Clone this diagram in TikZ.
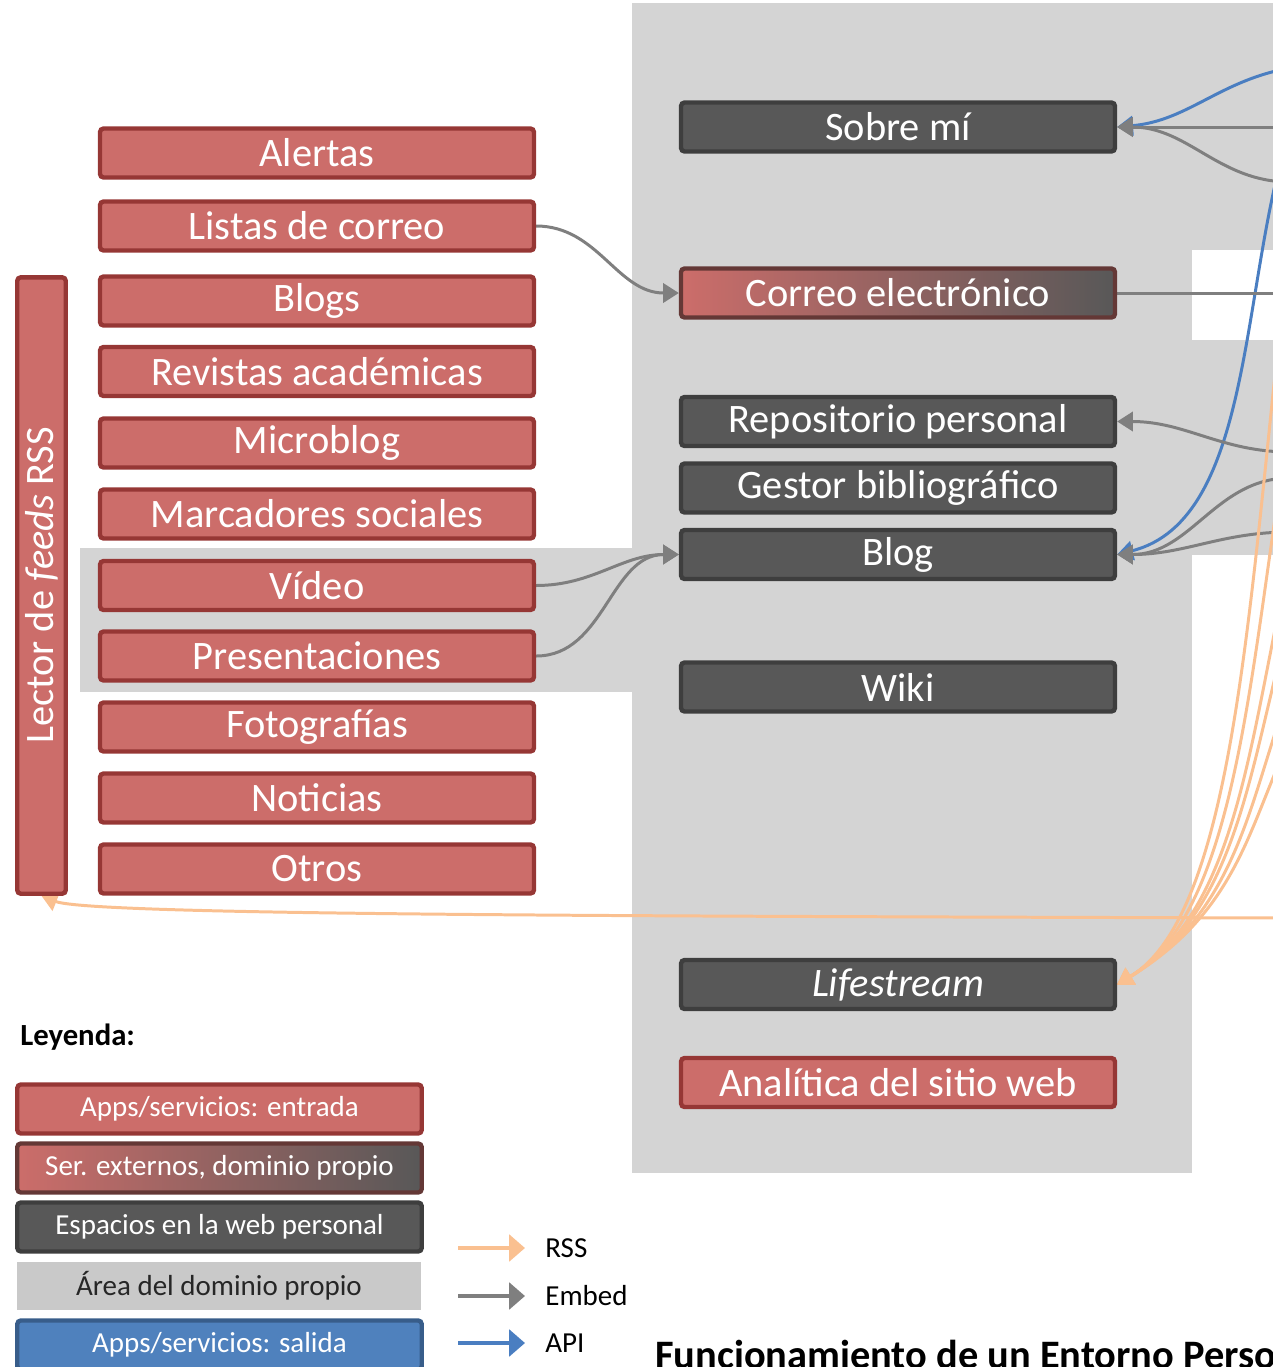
\documentclass[tikz,border=0pt]{standalone}
\usepackage{fontspec}
\setmainfont{Carlito}
\usetikzlibrary{arrows.meta}
\definecolor{rojo}{RGB}{204,109,106}
\definecolor{rojoBorde}{RGB}{150,55,53}
\definecolor{oscuro}{RGB}{88,88,88}
\definecolor{oscuroBorde}{RGB}{62,62,62}
\definecolor{mixtoBorde}{RGB}{100,56,54}
\definecolor{area}{RGB}{212,212,212}
\definecolor{azul}{RGB}{79,129,189}
\definecolor{azulBorde}{RGB}{56,93,138}
\definecolor{lineaAzul}{RGB}{74,126,193}
\definecolor{naranja}{RGB}{250,192,144}
\definecolor{lineaGris}{RGB}{127,127,127}
\pgfdeclarelayer{fondo}
\pgfdeclarelayer{lineas}
\pgfsetlayers{fondo,lineas,main}
\tikzset{
  caja/.style={draw=rojoBorde, fill=rojo, line width=2.5pt, rounded corners=2pt,
    minimum width=8.68cm, minimum height=0.98cm, inner sep=0pt, text=white,
    font=\fontsize{23}{27}\selectfont},
  entrada/.style={caja},
  espacio/.style={caja, draw=oscuroBorde, fill=oscuro},
  externo/.style={caja, draw=mixtoBorde, left color=rojo, right color=oscuro},
  leyendacaja/.style={minimum width=8.09cm, font=\fontsize{16.5}{19}\selectfont},
  embed/.style={draw=lineaGris, line width=1.7pt, -{Triangle[length=9pt,width=11pt]}},
  rss/.style={embed, draw=naranja},
  api/.style={embed, draw=lineaAzul},
}
\begin{document}
\begin{tikzpicture}[x=0.02cm, y=-0.02cm]
    \useasboundingbox (0,0) rectangle (1273,1367);
    \clip (0,0) rectangle (1273,1367);
    % 灰色区域
    \begin{pgfonlayer}{fondo}
        \fill[area] (632,3) rectangle (1192,1173);
        \fill[area] (1192,3) rectangle (1290,250);
        \fill[area] (1192,340) rectangle (1290,555);
        \fill[area] (80,548) rectangle (632,692);
    \end{pgfonlayer}
    % 左列
    \foreach \nombre/\texto/\y in {alertas/Alertas/153, listas/Listas de correo/226,
        blogs/Blogs/301, revistas/Revistas académicas/371.5, microblog/Microblog/443,
        marcadores/Marcadores sociales/514, video/Vídeo/585.5,
        presentaciones/Presentaciones/656, fotografias/Fotografías/727,
        noticias/Noticias/798, otros/Otros/869}
        \node[entrada] (\nombre) at (317,\y) {\texto};
    \node[entrada, rotate=90, minimum width=12.33cm, minimum height=0.97cm] (lector)
        at (41.5,585.5) {Lector de \textit{feeds} RSS};
    % 中列
    \node[espacio] (sobremi) at (898,127) {Sobre mí};
    \node[externo] (correo) at (898,293) {Correo electrónico};
    \node[espacio] (repositorio) at (898,421.5) {Repositorio personal};
    \node[espacio] (gestor) at (898,488) {Gestor bibliográfico};
    \node[espacio] (blog) at (898,554.5) {Blog};
    \node[espacio] (wiki) at (898,687) {Wiki};
    \node[espacio] (lifestream) at (898,984.5) {\textit{Lifestream}};
    \node[entrada] (analitica) at (898,1082.5) {Analítica del sitio web};
    % 图例
    \node[anchor=west, inner sep=0pt, font=\bfseries\fontsize{17.5}{21}\selectfont] (leyenda)
        at (20,1037) {Leyenda:};
    \node[entrada, leyendacaja] (leyentrada) at (219.5,1109) {Apps/servicios: entrada};
    \node[externo, leyendacaja] (leyexterno) at (219.5,1168) {Ser. externos, dominio propio};
    \node[espacio, leyendacaja] (leyespacio) at (219.5,1227) {Espacios en la web personal};
    \node[fill=area!95!black, minimum width=8.08cm, minimum height=0.96cm, inner sep=0pt,
        text=black!85, font=\fontsize{16.5}{19}\selectfont] (leyarea) at (219,1286) {Área del dominio propio};
    \node[caja, leyendacaja, draw=azulBorde, fill=azul] (leysalida) at (219.5,1345) {Apps/servicios: salida};
    \foreach \nombre/\col/\y/\texto in {rss/naranja/1248/RSS, emb/lineaGris/1296/Embed, api/lineaAzul/1343/API} {
        \coordinate (\nombre0) at (458,\y);
        \coordinate (\nombre1) at (525,\y);
        \draw[draw=\col, line width=2.8pt, -{Triangle[length=9pt,width=15pt]}] (\nombre0) -- (\nombre1);
        \node[anchor=west, inner sep=0pt, font=\fontsize{16.5}{19}\selectfont] (txt\nombre) at (545,\y) {\texto};
    }
    \node[anchor=base west, inner sep=0pt, font=\bfseries\fontsize{23}{27}\selectfont] (titulo)
        at (655,1368) {Funcionamiento de un Entorno Personal};
    % 连接线
    \coordinate (apiA) at (1290,68);
    \coordinate (apiB) at (1290,130);
    \coordinate (embA) at (1290,127);
    \coordinate (embB) at (1290,182);
    \coordinate (embC) at (1290,452);
    \coordinate (embD) at (1290,478);
    \coordinate (embE) at (1290,532);
    \coordinate (correoSal) at (1290,293);
    \coordinate (rssLector) at (1290,918);
    \begin{pgfonlayer}{lineas}
        \draw[embed] (listas.east) to[out=0,in=180] (correo.west);
        \draw[embed] (video.east) to[out=0,in=180] (blog.west);
        \draw[embed] (presentaciones.east) to[out=0,in=180] (blog.west);
        \draw[api] (apiA) to[out=190,in=5] (sobremi.east);
        \draw[api] (apiB) .. controls (1240,280) and (1255,520) .. (blog.east);
        \draw[embed] (embA) -- (sobremi.east);
        \draw[embed] (embB) to[out=180,in=0] (sobremi.east);
        \draw[draw=lineaGris, line width=1.7pt] (correo.east) -- (correoSal);
        \draw[embed] (embC) to[out=180,in=0] (repositorio.east);
        \draw[embed] (embD) to[out=180,in=0] (blog.east);
        \draw[embed] (embE) to[out=180,in=0] (blog.east);
        \foreach \y in {240,420,560,620,690,740} {
            \coordinate (rss\y) at (1290,\y);
            \draw[rss] (rss\y) .. controls (1250,{(\y+900)/2}) and (1240,910) .. (lifestream.east);
        }
        \draw[rss] (rssLector) .. controls (600,916) and (90,915) .. (lector.west);
    \end{pgfonlayer}
\end{tikzpicture}
\end{document}
